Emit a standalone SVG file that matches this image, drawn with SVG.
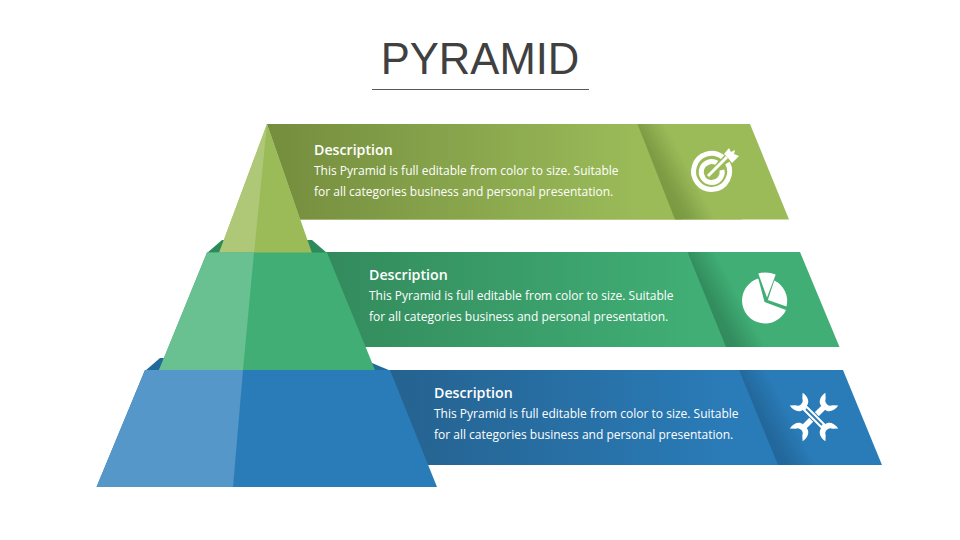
<svg xmlns="http://www.w3.org/2000/svg" width="960" height="540" viewBox="0 0 960 540">
<style>
.h{font-family:"Open Sans",sans-serif;font-weight:600;font-size:14.2px;fill:#fff}
.b{font-family:"Open Sans",sans-serif;font-size:12px;fill:#fff}
.w{fill:#fff}
.ws{fill:none;stroke:#fff}
</style>
<defs>
<linearGradient id="g1" x1="267" y1="0" x2="640" y2="0" gradientUnits="userSpaceOnUse"><stop offset="0" stop-color="#748d3e"/><stop offset="1" stop-color="#9bbb59"/></linearGradient>
<linearGradient id="f1" x1="650" y1="173" x2="682" y2="156" gradientUnits="userSpaceOnUse"><stop offset="0" stop-color="#7a9a42"/><stop offset=".3" stop-color="#7d9c44"/><stop offset="1" stop-color="#9bbb59"/></linearGradient>
<linearGradient id="g2" x1="320" y1="0" x2="690" y2="0" gradientUnits="userSpaceOnUse"><stop offset="0" stop-color="#338a5c"/><stop offset="1" stop-color="#40ae75"/></linearGradient>
<linearGradient id="f2" x1="700" y1="301" x2="732" y2="284" gradientUnits="userSpaceOnUse"><stop offset="0" stop-color="#31895b"/><stop offset=".3" stop-color="#338e5f"/><stop offset="1" stop-color="#40ae75"/></linearGradient>
<linearGradient id="g3" x1="385" y1="0" x2="740" y2="0" gradientUnits="userSpaceOnUse"><stop offset="0" stop-color="#25628f"/><stop offset="1" stop-color="#2a7cb9"/></linearGradient>
<linearGradient id="f3" x1="752" y1="419" x2="784" y2="402" gradientUnits="userSpaceOnUse"><stop offset="0" stop-color="#22669a"/><stop offset=".3" stop-color="#23699d"/><stop offset="1" stop-color="#2a7cb9"/></linearGradient>
<path id="wrench" d="M15 -3.200C15 -8 21 -12 29 -10.500L24.500 -5.500A6 6 0 0 0 24.500 5.500L29 10.500C21 12 15 8 15 3.200H-15C-15 8 -21 12 -29 10.500L-24.500 5.500A6 6 0 0 0 -24.500 -5.500L-29 -10.500C-21 -12 -15 -8 -15 -3.200Z" fill="#fff"/>
</defs>
<g id="title">
<text x="480" y="74" text-anchor="middle" font-family="Liberation Sans, Arial, sans-serif" font-size="43.600" fill="#404040">PYRAMID</text>
<line x1="372" y1="89.500" x2="589" y2="89.500" stroke="#595959" stroke-width="1.200"/>
</g>
<g id="band-top">
<path d="M267 124H750L789 219.500H300Z" fill="#9bbb59"/>
<path d="M267 124H645L682 219.500H300Z" fill="url(#g1)"/>
<path d="M637.500 124H705L742 219.500H675Z" fill="url(#f1)"/>
<text class="h" x="314" y="155">Description</text>
<text class="b" x="314" y="175">This Pyramid is full editable from color to size. Suitable</text>
<text class="b" x="314" y="196">for all categories business and personal presentation.</text>
<g id="icon-target">
<path class="ws" d="M723 157.500A18 18 0 1 0 727.500 163" stroke-width="5"/>
<path class="ws" d="M717 163A10.500 10.500 0 1 0 722 170" stroke-width="5"/>
<path d="M709 175L729 155" stroke="#9bbb59" stroke-width="6" fill="none"/>
<path class="ws" d="M708 176L727 157" stroke-width="3"/>
<path class="w" d="M724 154L729 148L731 152L735 150L734 154L739 156L732 163L728 158Z"/>
</g>
</g>
<g id="band-mid">
<path d="M320 252H800L839.500 347H320Z" fill="#40ae75"/>
<path d="M320 252H695L732 347H320Z" fill="url(#g2)"/>
<path d="M687.500 252H755L792 347H726Z" fill="url(#f2)"/>
<text class="h" x="369" y="279.500">Description</text>
<text class="b" x="369" y="300">This Pyramid is full editable from color to size. Suitable</text>
<text class="b" x="369" y="321">for all categories business and personal presentation.</text>
<g id="icon-pie">
<path class="w" d="M764.500 302L758.300 278.500A23 23 0 1 0 786 310Z"/>
<path class="w" d="M767.800 300L774.300 280.500A23 23 0 0 1 786.500 306.500Z"/>
<path class="w" d="M767 297.500L758.300 273.500Q767 271 775.700 274.500Z"/>
</g>
</g>
<g id="band-low">
<path d="M380 370H843L882 465H380Z" fill="#2a7cb9"/>
<path d="M380 370H745L782 465H380Z" fill="url(#g3)"/>
<path d="M739 370H805L843 465H778Z" fill="url(#f3)"/>
<text class="h" x="434" y="398">Description</text>
<text class="b" x="434" y="418">This Pyramid is full editable from color to size. Suitable</text>
<text class="b" x="434" y="439">for all categories business and personal presentation.</text>
<g id="icon-wrench">
<use href="#wrench" transform="translate(814 417) rotate(-45) scale(.87)"/>
<path d="M805 408L823 426" stroke="#2a7cb9" stroke-width="8" fill="none"/>
<path d="M804 407L824 427" stroke="#fff" stroke-width="6" fill="none"/>
<use href="#wrench" transform="translate(814 417) rotate(45) scale(.87)"/>
<path d="M806 409L822 425" stroke="#2a7cb9" stroke-width="1.800" fill="none"/>
</g>
</g>
<g id="pyramid-top">
<path d="M207 253L222 240H312L327 253Z" fill="#2d8a5b"/>
<path d="M267 124L219 253H312Z" fill="#9bbb59"/>
<path d="M267 124L219 253H254Z" fill="#aec878"/>
</g>
<g id="pyramid-mid">
<path d="M145 371L160 358H360L391 371Z" fill="#236a9c"/>
<path d="M207 252.500H327L375 370H159Z" fill="#40ae75"/>
<path d="M207 252.500H254L243 370H159Z" fill="#69c091"/>
</g>
<g id="pyramid-low">
<path d="M145 370H390L437 487H96.500Z" fill="#2a7cb9"/>
<path d="M145 370H243L233 487H96.500Z" fill="#5597c9"/>
</g>
</svg>
